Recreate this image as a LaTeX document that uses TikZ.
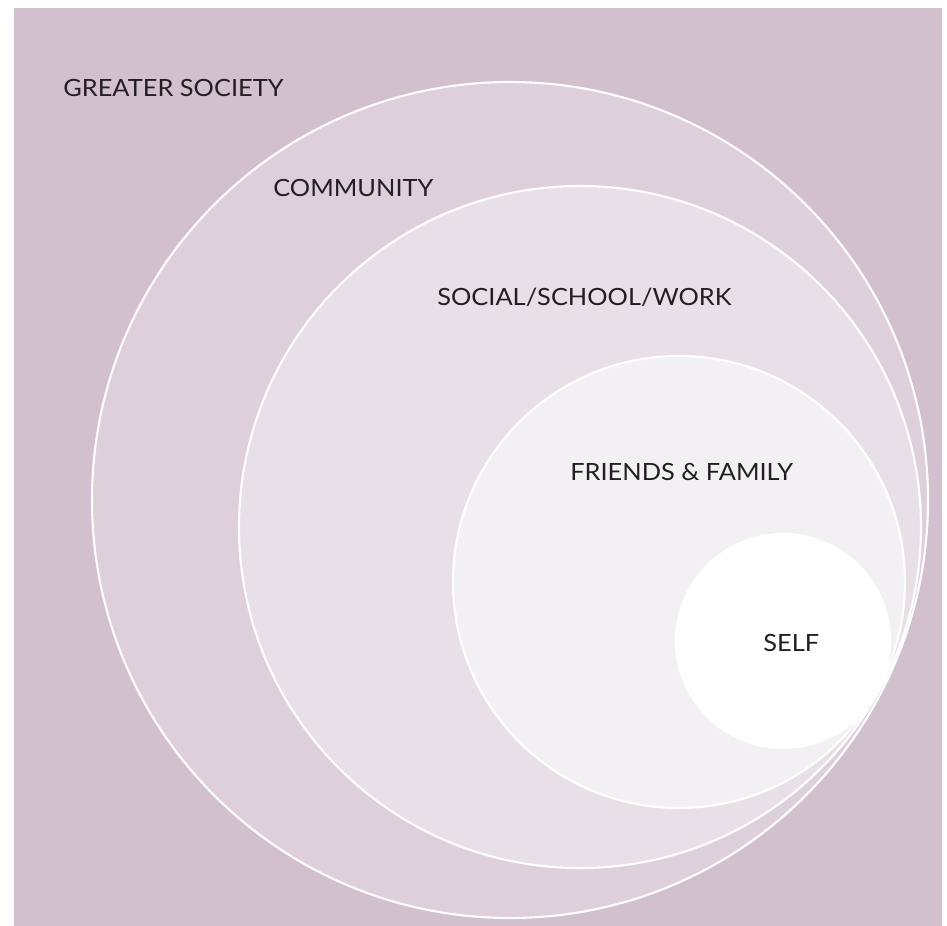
\documentclass[tikz,border=0pt]{standalone}
\usepackage{fontspec}
\setmainfont{Lato}[FakeStretch=1.07]
\definecolor{society}{HTML}{D3C0CF}
\definecolor{community}{HTML}{DED0DB}
\definecolor{social}{HTML}{E9E0E7}
\definecolor{friends}{HTML}{F3F0F4}
\definecolor{ink}{HTML}{231F20}
\begin{document}
\begin{tikzpicture}[x=0.02cm, y=-0.02cm,
    ring/.style={fill=#1, draw=white, line width=1.2pt},
    ringtext/.style={anchor=base west, inner sep=0pt, text=ink,
      font=\fontsize{13.5}{16}\selectfont}]
        \useasboundingbox (0, 0) rectangle (947, 926);
        \fill [society] (14, 8) rectangle (942, 926);
        % nested circles, all touching near the lower right
        \filldraw [ring=community] (510, 500) circle [radius = 418];
        \filldraw [ring=social] (580, 527) circle [radius = 341];
        \filldraw [ring=friends] (679, 582) circle [radius = 226];
        \filldraw [ring=white] (783, 641) circle [radius = 107];
        \node [ringtext] (society) at (63, 97) {GREATER SOCIETY};
        \node [ringtext] (community) at (273, 196) {COMMUNITY};
        \node [ringtext] (social) at (437, 305) {SOCIAL/SCHOOL/WORK};
        \node [ringtext] (friends) at (570, 480) {FRIENDS \& FAMILY};
        \node [ringtext] (self) at (763, 651) {SELF};
      \end{tikzpicture}
\end{document}
